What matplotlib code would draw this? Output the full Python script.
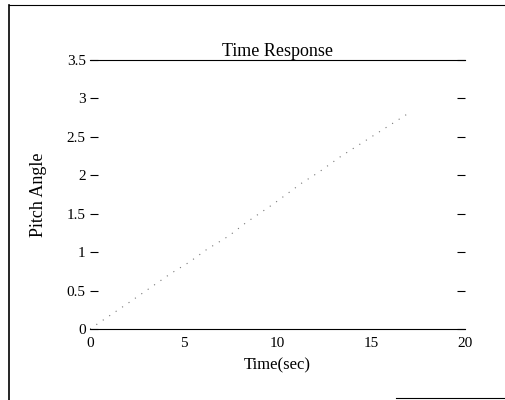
import matplotlib
matplotlib.use('Agg')
import matplotlib.pyplot as plt
from matplotlib.lines import Line2D

# values
t = [0, 2.0, 4.3, 5.3, 6.2, 7.4, 8.3, 9.2, 9.8, 11.3, 12.2, 13.4, 17.0]
pitch = [0, 0.33, 0.72, 0.87, 1.03, 1.21, 1.38, 1.53, 1.63, 1.90, 2.04, 2.25, 2.81]
xticks = [0, 5, 10, 15, 20]
yticks = [0, 0.5, 1, 1.5, 2, 2.5, 3, 3.5]

plt.rcParams['font.family'] = ['Liberation Serif', 'DejaVu Serif']

fig = plt.figure(figsize=(5.05, 4.0), dpi=100)
ax = fig.add_axes([0.178, 0.1775, 0.743, 0.6725])

ax.plot(t, pitch, color='#777777', linestyle=(0, (1, 6)), linewidth=0.8)

ax.set_xlim(0, 20)
ax.set_ylim(0, 3.5)
ax.set_xticks(xticks)
ax.set_yticks(yticks)
ax.set_yticklabels(['0', '0.5', '1', '1.5', '2', '2.5', '3', '3.5'])
ax.tick_params(axis='y', direction='in', length=6, width=0.8, right=True,
               labelsize=11, pad=3)
ax.tick_params(axis='x', direction='in', length=0, labelsize=11, pad=6)

ax.spines['left'].set_visible(False)
ax.spines['right'].set_visible(False)
ax.spines['top'].set_linewidth(0.8)
ax.spines['bottom'].set_linewidth(0.8)

ax.set_title('Time Response', fontsize=13, pad=1)
ax.set_xlabel('Time(sec)', fontsize=12, labelpad=5)
ax.set_ylabel('Pitch Angle', fontsize=13, labelpad=14)

# page border from the scan
fig.add_artist(Line2D([0.018, 0.018], [0.0, 0.988], color='black', linewidth=1.2))
fig.add_artist(Line2D([0.018, 1.0], [0.988, 0.988], color='black', linewidth=0.8))
fig.add_artist(Line2D([0.785, 1.0], [0.004, 0.004], color='black', linewidth=0.8))

fig.savefig('out.png', dpi=100)
